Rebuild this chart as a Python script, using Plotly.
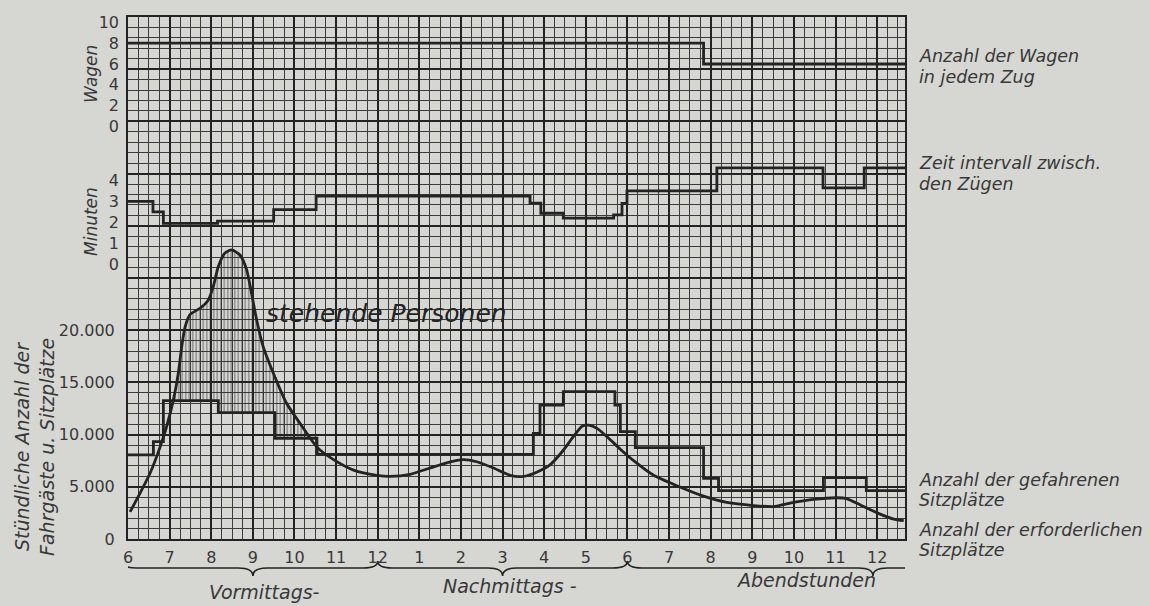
import numpy as np
import plotly.graph_objects as go

# time axis in hours from 6 a.m. (values above 24 run past midnight)
hour_ticks = list(range(6, 25))
hour_labels = ["6", "7", "8", "9", "10", "11", "12", "1", "2", "3", "4", "5",
               "6", "7", "8", "9", "10", "11", "12"]

# Anzahl der Wagen in jedem Zug
wagen_t = [6.0, 19.83, 24.67]
wagen_n = [8, 6, 6]

# Zeitintervall zwischen den Zügen (Minuten)
interval_t = [6.0, 6.6, 6.85, 8.15, 9.5, 10.52, 15.66, 15.92, 16.46, 17.67,
              17.87, 17.99, 20.15, 22.7, 23.69, 24.67]
interval_min = [3.0, 2.5, 1.95, 2.05, 2.6, 3.25, 2.92, 2.43, 2.2, 2.35,
                2.9, 3.5, 4.6, 3.65, 4.6, 4.6]

# gefahrene Sitzplätze je Stunde
seats_t = [6.0, 6.61, 6.85, 8.17, 9.53, 10.54, 15.74, 15.9, 16.46, 17.7,
           17.83, 18.19, 19.83, 20.19, 22.71, 23.74, 24.67]
seats_v = [8050, 9320, 13250, 12100, 9650, 8100, 10120, 12830, 14110, 12830,
           10280, 8750, 5810, 4630, 5870, 4630, 4630]

# erforderliche Sitzplätze (Fahrgäste je Stunde)
demand_t = [6.05, 6.29, 6.53, 6.77, 6.93, 7.09, 7.21, 7.29, 7.37, 7.49, 7.73,
            7.93, 8.05, 8.17, 8.33, 8.49, 8.69, 8.85, 8.97, 9.09, 9.25, 9.49,
            9.81, 10.18, 10.54, 10.94, 11.42, 11.98, 12.3, 12.78, 13.26, 13.66,
            14.06, 14.38, 14.78, 15.18, 15.5, 15.82, 16.14, 16.46, 16.7, 16.91,
            17.07, 17.27, 17.51, 17.83, 18.15, 18.63, 19.19, 19.83, 20.39,
            21.03, 21.51, 21.99, 22.47, 23.04, 23.28, 23.6, 24.0, 24.4, 24.64]
demand_v = [2600, 4400, 6300, 8800, 10800, 13300, 15900, 18400, 20300, 21500,
            22100, 22900, 24200, 26100, 27400, 27700, 27200, 25800, 23500,
            21000, 18400, 15900, 13000, 10800, 8800, 7600, 6600, 6100, 6000,
            6200, 6800, 7300, 7600, 7400, 6800, 6100, 6000, 6400, 7100, 8500,
            9800, 10800, 10900, 10600, 9800, 8600, 7500, 6100, 5100, 4100,
            3500, 3200, 3100, 3500, 3800, 3950, 3850, 3250, 2500, 1900, 1750]

PAPER = "#d6d6d3"
INK = "#232323"
GRID = "#3c3c3c"
TEXT = "#383838"
FONT = "DejaVu Sans, Liberation Sans, sans-serif"

# plot frame in pixels (used only to place text and braces)
L, R, T, B = 128, 905, 17, 539


def px(x):
    return (x - L) / (R - L)


def py(y):
    return (B - y) / (B - T)


# standing passengers: region where demand exceeds the seats offered
t_dense = np.linspace(6.0, 11.0, 700)
d_dense = np.interp(t_dense, demand_t, demand_v)
s_dense = np.array(seats_v)[np.searchsorted(seats_t, t_dense, side="right") - 1]
upper = np.maximum(d_dense, s_dense)

fig = go.Figure()
fig.add_trace(go.Scatter(x=t_dense, y=s_dense, mode="lines", line=dict(width=0),
                         hoverinfo="skip", showlegend=False))
fig.add_trace(go.Scatter(x=t_dense, y=upper, mode="lines", line=dict(width=0),
                         fill="tonexty", fillcolor="rgba(0,0,0,0)",
                         fillpattern=dict(shape="|", size=3.5, solidity=0.35,
                                          fgcolor=INK, bgcolor="rgba(0,0,0,0)"),
                         hoverinfo="skip", showlegend=False))
fig.add_trace(go.Scatter(x=seats_t, y=seats_v, mode="lines", line_shape="hv",
                         line=dict(color=INK, width=2.8), showlegend=False))
fig.add_trace(go.Scatter(x=demand_t, y=demand_v, mode="lines", line_shape="spline",
                         line=dict(color=INK, width=2.8, smoothing=0.6),
                         showlegend=False))
fig.add_trace(go.Scatter(x=interval_t, y=interval_min, mode="lines", line_shape="hv",
                         line=dict(color=INK, width=2.8), yaxis="y2",
                         showlegend=False))
fig.add_trace(go.Scatter(x=wagen_t, y=wagen_n, mode="lines", line_shape="hv",
                         line=dict(color=INK, width=2.8), yaxis="y3",
                         showlegend=False))

tickfont = dict(family=FONT, size=16, color=TEXT)
fig.update_layout(
    width=1150, height=606,
    margin=dict(l=L, r=1150 - R, t=T, b=606 - B),
    paper_bgcolor=PAPER, plot_bgcolor=PAPER,
    showlegend=False,
    xaxis=dict(range=[6, 24.67], tickvals=hour_ticks, ticktext=hour_labels,
               tickfont=tickfont, ticks="", ticklabelstandoff=3,
               showgrid=True, gridcolor=INK, gridwidth=1.8, zeroline=False,
               minor=dict(tick0=6, dtick=0.25, showgrid=True,
                          gridcolor=GRID, gridwidth=1.2),
               showline=True, mirror=True, linecolor=INK, linewidth=2),
    yaxis=dict(range=[0, 50000], tickvals=list(range(0, 50001, 5000)),
               ticktext=["0", "5.000", "10.000", "15.000", "20.000"] + [""] * 6,
               tickfont=tickfont, ticks="", ticklabelstandoff=8,
               showgrid=True, gridcolor=INK, gridwidth=1.8, zeroline=False,
               minor=dict(dtick=1000, showgrid=True, gridcolor=GRID,
                          gridwidth=1.2),
               showline=True, mirror=True, linecolor=INK, linewidth=2),
    yaxis2=dict(range=[-13.17, 11.83], overlaying="y", anchor="x", side="left",
                tickvals=[0, 1, 2, 3, 4], tickfont=tickfont, ticks="",
                ticklabelstandoff=8, showgrid=False, zeroline=False),
    yaxis3=dict(range=[-39.5, 10.5], overlaying="y", anchor="x", side="left",
                tickvals=[0, 2, 4, 6, 8, 10], tickfont=tickfont, ticks="",
                ticklabelstandoff=8, showgrid=False, zeroline=False),
)

italic = dict(family=FONT, size=17.5, color=TEXT, style="italic")

# right-hand descriptions
right_notes = [
    ("Anzahl der Wagen", 56), ("in jedem Zug", 77),
    ("Zeit intervall zwisch.", 163), ("den Zügen", 184),
    ("Anzahl der gefahrenen", 480), ("Sitzplätze", 500),
    ("Anzahl der erforderlichen", 530), ("Sitzplätze", 550),
]
for txt, y in right_notes:
    fig.add_annotation(text=txt, xref="paper", yref="paper", x=px(917), y=py(y),
                       xanchor="left", yanchor="middle", showarrow=False,
                       font=italic)

# left axis titles
left_notes = [
    ("Wagen", 91, 74, 17), ("Minuten", 91, 222, 17),
    ("Stündliche Anzahl der", 22, 447, 19),
    ("Fahrgäste u. Sitzplätze", 47, 447, 19),
]
for txt, x, y, s in left_notes:
    fig.add_annotation(text=txt, xref="paper", yref="paper", x=px(x), y=py(y),
                       xanchor="center", yanchor="middle", textangle=-90,
                       showarrow=False, font=dict(italic, size=s))

# period names below the braces
periods = [("Vormittags-", 264, 592), ("Nachmittags -", 510, 586),
           ("Abendstunden", 806, 580)]
for txt, x, y in periods:
    fig.add_annotation(text=txt, xref="paper", yref="paper", x=px(x), y=py(y),
                       xanchor="center", yanchor="middle", showarrow=False,
                       font=dict(italic, size=19))

fig.add_annotation(text="stehende Personen", xref="x", yref="y", x=12.2, y=21600,
                   xanchor="center", yanchor="middle", showarrow=False,
                   font=dict(italic, size=25, color=INK))

# curly braces grouping the hours
yU, yM, yD = py(561), py(568), py(576)


def brace(t0, t1, tc, hook_right=True):
    p = (f"M {t0},{yU} Q {t0},{yM} {t0 + 0.35},{yM} L {tc - 0.35},{yM} "
         f"Q {tc},{yM} {tc},{yD} Q {tc},{yM} {tc + 0.35},{yM} ")
    if hook_right:
        p += f"L {t1 - 0.35},{yM} Q {t1},{yM} {t1},{yU}"
    else:
        p += f"L {t1},{yM}"
    return p


for t0, t1, tc, hook in [(5.85, 12, 9, True), (12, 18, 15, True),
                         (18, 24.8, 23.9, False)]:
    fig.add_shape(type="path", path=brace(t0, t1, tc, hook), xref="x",
                  yref="paper", line=dict(color=INK, width=1.6))

# drop the browser's default page margin so the figure sits at the corner
fig.write_html("out.html", config={"displayModeBar": False},
               post_script="document.body.style.margin='0';")
